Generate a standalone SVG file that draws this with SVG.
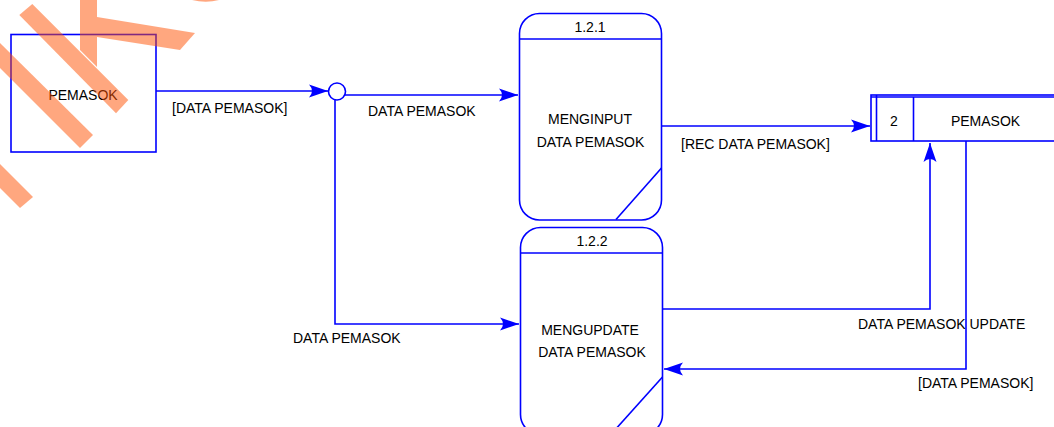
<svg xmlns="http://www.w3.org/2000/svg" width="1054" height="427" viewBox="0 0 1054 427">
<style>
.ln{fill:none;stroke:#0000FF;stroke-width:1.6}
.sh{fill:#FFFFFF;stroke:#0000FF;stroke-width:1.6}
.t{font-family:"Liberation Sans",Arial,sans-serif;font-size:14px;fill:#000000}
.m{text-anchor:middle}
.wm{fill:#FF5000;fill-opacity:0.5;stroke:none}
</style>
<defs>
<marker id="ah" markerUnits="userSpaceOnUse" markerWidth="24" markerHeight="16" viewBox="-20 -8 22 16" refX="0" refY="0" orient="auto">
<path d="M0,0 L-19,-6.5 Q-13,0 -19,6.5 Z" fill="#0000FF"/>
</marker>
</defs>
<rect width="1054" height="427" fill="#FFFFFF"/>

<g id="connectors">
<polyline class="ln" points="156,91 328,91" marker-end="url(#ah)"/>
<polyline class="ln" points="344.5,95 518,95" marker-end="url(#ah)"/>
<polyline class="ln" points="335,99.5 335,324 519,324" marker-end="url(#ah)"/>
<polyline class="ln" points="662,126 870,126" marker-end="url(#ah)"/>
<polyline class="ln" points="663,309 930,309 930,143" marker-end="url(#ah)"/>
<polyline class="ln" points="966,141 966,369 664,369" marker-end="url(#ah)"/>
<text class="t" x="172" y="113">[DATA PEMASOK]</text>
<text class="t" x="368" y="116">DATA PEMASOK</text>
<text class="t" x="293" y="343">DATA PEMASOK</text>
<text class="t" x="681" y="149">[REC DATA PEMASOK]</text>
<text class="t" x="858" y="329">DATA PEMASOK UPDATE</text>
<text class="t" x="918" y="388">[DATA PEMASOK]</text>
</g>

<g id="junction">
<circle class="sh" cx="337" cy="91.5" r="8.5"/>
</g>

<g id="entity-pemasok">
<rect class="sh" x="11" y="34.5" width="145" height="117.5"/>
<text class="t m" x="83" y="100">PEMASOK</text>
</g>

<g id="process-1-2-1">
<rect class="sh" x="519.5" y="13.5" width="142" height="206.5" rx="20" ry="20"/>
<line class="ln" x1="519.5" y1="39" x2="661.5" y2="39"/>
<line class="ln" x1="616" y1="219.5" x2="661.5" y2="168"/>
<text class="t m" x="590" y="31.5">1.2.1</text>
<text class="t m" x="590" y="124">MENGINPUT</text>
<text class="t m" x="590.5" y="146.5">DATA PEMASOK</text>
</g>

<g id="process-1-2-2">
<rect class="sh" x="520.5" y="227.5" width="142" height="207" rx="20" ry="20"/>
<line class="ln" x1="520.5" y1="253" x2="662.5" y2="253"/>
<line class="ln" x1="662.5" y1="377" x2="614" y2="431"/>
<text class="t m" x="592" y="246">1.2.2</text>
<text class="t m" x="590" y="335">MENGUPDATE</text>
<text class="t m" x="592" y="357">DATA PEMASOK</text>
</g>

<g id="store-2-pemasok">
<rect class="sh" x="871" y="95" width="190" height="46"/>
<line class="ln" x1="871" y1="97" x2="1061" y2="97"/>
<line class="ln" x1="876.5" y1="95" x2="876.5" y2="141"/>
<line class="ln" x1="913.5" y1="97" x2="913.5" y2="141"/>
<text class="t m" x="894" y="126">2</text>
<text class="t m" x="985.5" y="126">PEMASOK</text>
</g>

<g id="watermark">
<polygon class="wm" points="19.3,15 32.3,4 128.3,100 116,113.3"/>
<polygon class="wm" points="80,0 97,0 97,67 80,50"/>
<polygon class="wm" points="97,17 195,33 180,50 97,37"/>
<polygon class="wm" points="0,43 93,135 80,148 0,68"/>
<polygon class="wm" points="0,164 33,197 20,208 0,188"/>
<path class="wm" d="M192,0 Q206,3.5 219,0 Z"/>
</g>
</svg>
